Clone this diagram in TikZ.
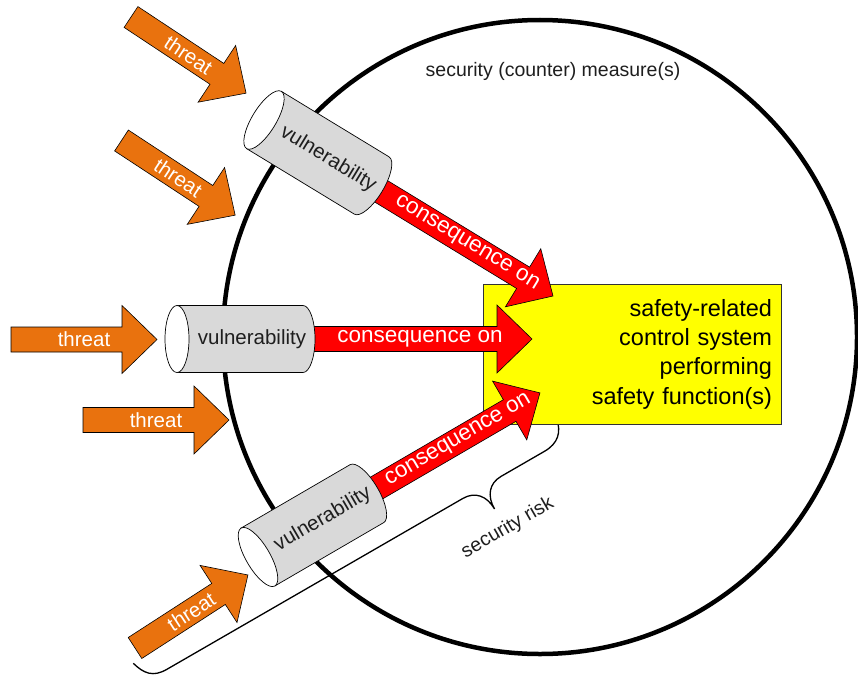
\documentclass[tikz,border=0pt]{standalone}
\usepackage{fontspec}
\setmainfont{Liberation Sans}
\definecolor{threatorange}{RGB}{233,114,14}
\definecolor{cylgray}{RGB}{217,217,217}
\definecolor{boxyellow}{RGB}{255,255,0}
\definecolor{inkgray}{RGB}{30,30,30}

% half shaft width, half head width and head length of the fat arrows
\def\FAshaft{12.5}
\def\FAhead{34}
\def\FAtip{35}

% #1 style, #2 tail centre, #3 rotation, #4 length, #5 label position, #6 label, #7 name
\newcommand\FatArrow[7]{%
  \begin{scope}[shift={#2},rotate=#3]
    \draw[#1] (0,-\FAshaft) -- ({#4-\FAtip},-\FAshaft) -- ({#4-\FAtip},-\FAhead)
      -- (#4,0) -- ({#4-\FAtip},\FAhead) -- ({#4-\FAtip},\FAshaft) -- (0,\FAshaft) -- cycle;
    \node[#1 label,rotate=#3] (#7) at (#5,0) {#6};
  \end{scope}}

% #1 centre of the open face, #2 rotation, #3 name
\newcommand\VulnCyl[3]{%
  \begin{scope}[shift={#1},rotate=#2]
    \draw[cylbody] (0,-33.5) -- (126,-33.5)
      .. controls (132.6,-33.5) and (138,-18.5) .. (138,0)
      .. controls (138,18.5) and (132.6,33.5) .. (126,33.5) -- (0,33.5) -- cycle;
    \draw[cylface] (0,0) ellipse [x radius=12pt, y radius=33.5pt];
    \node[vuln label,rotate=#2] (#3) at (75,0) {vulnerability};
  \end{scope}}

\begin{document}
\begin{tikzpicture}[x=1pt,y=-1pt,
  ring/.style={draw=black,line width=4.5pt},
  brace line/.style={draw=black,line width=1.3pt},
  threat/.style={draw=black,line width=0.6pt,fill=threatorange,line join=miter},
  threat label/.style={text=white,inner sep=0pt,font=\fontsize{20.5}{24}\selectfont},
  cons/.style={draw=black,line width=0.6pt,fill=red,line join=miter},
  cons label/.style={text=white,inner sep=0pt,font=\fontsize{22.5}{26}\selectfont},
  cylbody/.style={draw=black,line width=0.7pt,fill=cylgray},
  cylface/.style={draw=black,line width=0.7pt,fill=white},
  vuln label/.style={text=inkgray,inner sep=0pt,font=\fontsize{20.5}{24}\selectfont},
  plain label/.style={text=inkgray,inner sep=0pt,font=\fontsize{19.5}{23}\selectfont},
  sysbox/.style={draw=black!80,line width=0.8pt,fill=boxyellow,
    minimum width=298pt,minimum height=140pt,text width=280pt,inner xsep=9pt,
    align=right,font=\fontsize{23.5}{29.3}\selectfont}]
\useasboundingbox (0,0) rectangle (858,677);

% boundary of the security (counter) measures
\draw[ring] (540,337) circle [radius=317pt];
\node[plain label] (measure) at (553,71) {security (counter) measure(s)};

% brace marking the security risk
\begin{scope}[shift={(133.3,663.3)},rotate=30]
  \draw[brace line] (0,0) .. controls (4,14) and (10,22) .. (26,22) -- (368,22)
    .. controls (382,22) and (390,32) .. (390,47)
    .. controls (390,32) and (398,22) .. (412,22) -- (462,22)
    .. controls (478,22) and (486,14) .. (489,0);
  \node[plain label,rotate=30] (risk) at (392,70) {security risk};
\end{scope}

% protected system
\node[sysbox] (scs) at (632,354) {safety-related\\control system\\performing\\safety function(s)};

% threats
\FatArrow{threat}{(131,17)}{-33.5}{138}{69}{threat}{t1}
\FatArrow{threat}{(121.5,140.5)}{-33.3}{136}{68}{threat}{t2}
\FatArrow{threat}{(11,339.5)}{0}{146}{73}{threat}{t3}
\FatArrow{threat}{(83,420)}{0}{146}{73}{threat}{t4}
\FatArrow{threat}{(135,648)}{32.9}{134.5}{67}{threat}{t5}

% consequences on the system
\FatArrow{cons}{(371.6,185.5)}{-31.35}{212.4}{111.4}{consequence on}{c1}
\FatArrow{cons}{(303,339)}{0}{229}{117}{consequence on}{c2}
\FatArrow{cons}{(366.9,493.6)}{30.2}{200.2}{106}{consequence on}{c3}

% vulnerabilities
\VulnCyl{(264,120)}{-31.3}{v1}
\VulnCyl{(177,339)}{0}{v2}
\VulnCyl{(258,557)}{30.2}{v3}
\end{tikzpicture}
\end{document}
